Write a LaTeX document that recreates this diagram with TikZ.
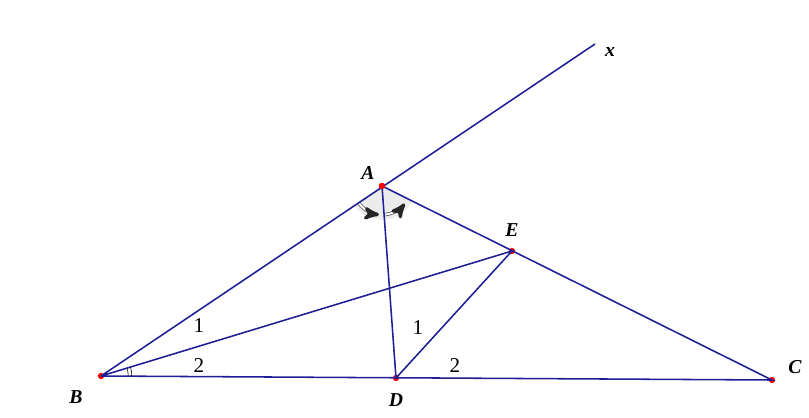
\documentclass[tikz,border=0pt]{standalone}
\usepackage{fontspec}
\setmainfont{Liberation Serif}
\usetikzlibrary{arrows,angles}
\definecolor{segblue}{RGB}{30,30,150}

\begin{document}
\begin{tikzpicture}[x=0.025cm,y=0.025cm,
  seg/.style={draw=segblue,line width=1.1pt},
  pt/.style={circle,fill=red,inner sep=0pt,minimum size=4.5pt},
  lbl/.style={font=\fontsize{14}{16}\selectfont\bfseries\itshape},
  num/.style={font=\fontsize{15}{17}\selectfont}]
\useasboundingbox (0,0) rectangle (809,417);
\coordinate (X) at (595,373);
\node[pt] (A) at (382,231) {};
\node[pt] (B) at (101,41) {};
\node[pt] (C) at (772,37) {};
\node[pt] (D) at (396,39) {};
\node[pt] (E) at (512,166) {};
% angle marks
\fill[gray!15] (A.center) -- ([shift={(214:0.84cm)}]A.center) arc (214:333:0.84cm) -- cycle;
\draw[gray!60!black,double=white,double distance=1.4pt,line width=0.5pt] ([shift={(215:0.72cm)}]A.center) arc (215:250:0.72cm);
\draw[gray!30!black,line width=2.4pt,-stealth'] ([shift={(248:0.72cm)}]A.center) arc (248:264:0.72cm);
\draw[gray!60!black,double=white,double distance=1.4pt,line width=0.5pt] ([shift={(276:0.72cm)}]A.center) arc (276:298:0.72cm);
\draw[gray!30!black,line width=2.4pt,-stealth'] ([shift={(296:0.72cm)}]A.center) arc (296:322:0.72cm);
\draw[seg] (B.center) -- (X) (B.center) -- (C.center) -- (A.center) -- (D.center) -- (E.center) -- (B.center);
\pic[draw,thin,angle radius=0.68cm] {angle = C--B--E};
\pic[draw,thin,angle radius=0.77cm] {angle = C--B--E};
\node[pt] at (A) {};
% labels
\node[lbl] at (368,244) {A};
\node[lbl] at (76,20) {B};
\node[lbl] at (795,50) {C};
\node[lbl] at (396,17) {D};
\node[lbl] at (512,187) {E};
\node[lbl] at (610,365) {x};
\node[num] at (199,91) {1};
\node[num] at (199,51) {2};
\node[num] at (418,89) {1};
\node[num] at (455,51) {2};
\end{tikzpicture}
\end{document}
